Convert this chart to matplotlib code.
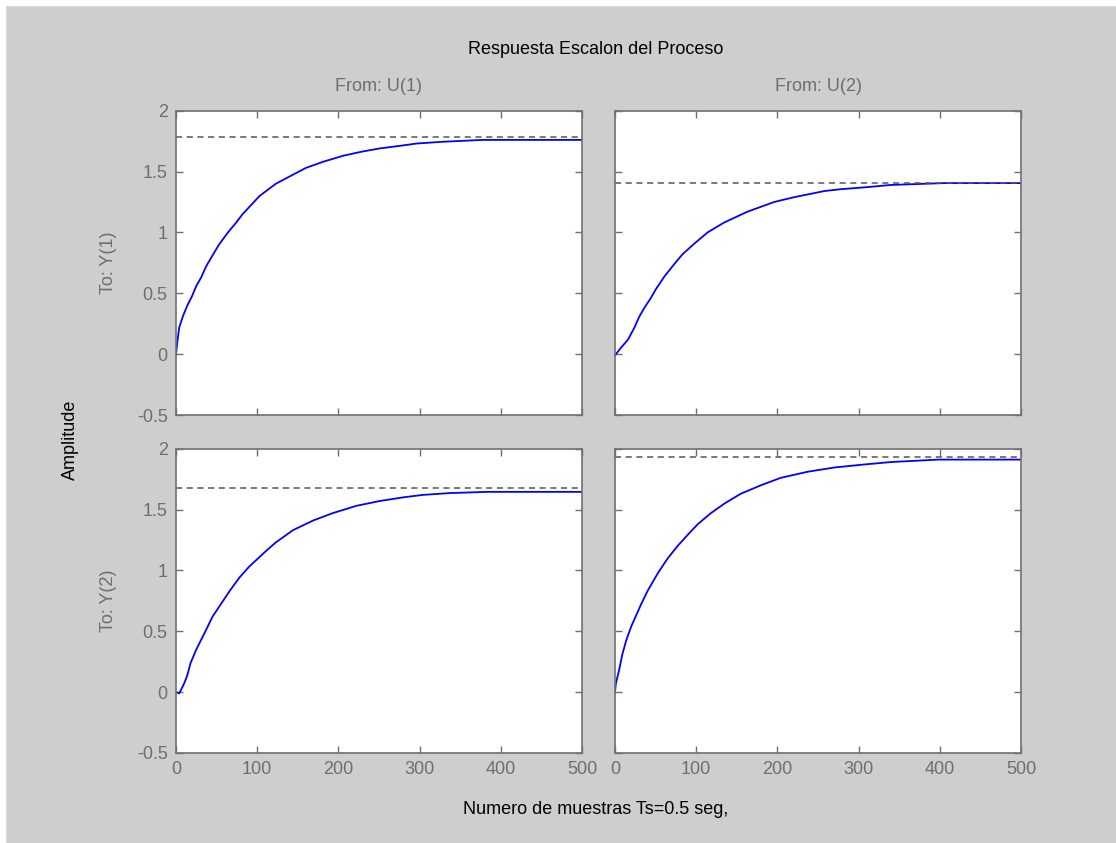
import matplotlib.pyplot as plt
from matplotlib.patches import Rectangle

plt.rcParams['font.family'] = ['Liberation Sans', 'DejaVu Sans']

# muestras (x = numero de muestra, y = amplitud)
x11 = [0, 1, 2, 4, 9, 14, 20, 25, 31, 37, 44, 53, 64, 74, 82, 103, 123, 140, 160, 181, 206, 230, 251, 280, 296, 329, 378, 500]
y11 = [0, 0.06, 0.12, 0.22, 0.32, 0.40, 0.48, 0.56, 0.63, 0.72, 0.80, 0.90, 1.00, 1.08, 1.15, 1.30, 1.40, 1.46, 1.53, 1.58, 1.63, 1.665, 1.69, 1.715, 1.73, 1.745, 1.76, 1.76]
x12 = [0, 7, 16, 24, 30, 37, 44, 50, 61, 73, 83, 98, 114, 134, 163, 196, 221, 258, 278, 307, 340, 405, 500]
y12 = [-0.01, 0.05, 0.12, 0.22, 0.31, 0.39, 0.46, 0.53, 0.64, 0.74, 0.82, 0.91, 1.00, 1.08, 1.17, 1.25, 1.29, 1.34, 1.355, 1.37, 1.39, 1.405, 1.405]
x21 = [0, 4, 10, 14, 18, 25, 31, 37, 45, 58, 66, 78, 90, 111, 123, 144, 169, 193, 222, 251, 280, 304, 337, 384, 500]
y21 = [0, -0.01, 0.07, 0.14, 0.24, 0.35, 0.43, 0.51, 0.62, 0.75, 0.83, 0.94, 1.03, 1.16, 1.23, 1.33, 1.41, 1.47, 1.53, 1.57, 1.60, 1.62, 1.635, 1.645, 1.645]
x22 = [0, 1, 5, 9, 14, 20, 26, 32, 40, 53, 65, 77, 92, 102, 118, 135, 155, 180, 204, 237, 270, 307, 340, 398, 500]
y22 = [0, 0.07, 0.18, 0.31, 0.43, 0.54, 0.63, 0.72, 0.83, 0.98, 1.10, 1.20, 1.31, 1.38, 1.47, 1.55, 1.63, 1.70, 1.76, 1.81, 1.845, 1.87, 1.89, 1.91, 1.91]
finales = [1.78, 1.405, 1.68, 1.93]

series = [(x11, y11), (x12, y12), (x21, y21), (x22, y22)]
entradas = ['From: U(1)', 'From: U(2)']
salidas = ['To: Y(1)', 'To: Y(2)']

bg = '#cecece'
gris = '#6e6e6e'

fig = plt.figure(figsize=(11.16, 8.43), dpi=100, facecolor=bg)
# borde blanco de la captura
fig.patches.append(Rectangle((0, 0.994), 1, 0.006, transform=fig.transFigure, color='white', zorder=-1))
fig.patches.append(Rectangle((0, 0), 0.0045, 1, transform=fig.transFigure, color='white', zorder=-1))

lefts = [0.1577, 0.5511]
bottoms = [0.5077, 0.1068]
w, h = 0.3638, 0.3610

for i in range(2):
    for j in range(2):
        ax = fig.add_axes([lefts[j], bottoms[i], w, h])
        xs, ys = series[i * 2 + j]
        ax.plot(xs, ys, color='#0000ff', lw=1.3)
        ax.axhline(finales[i * 2 + j], color='#555555', ls=(0, (4, 3)), lw=1.1)
        ax.set_xlim(0, 500)
        ax.set_ylim(-0.5, 2)
        ax.set_xticks([0, 100, 200, 300, 400, 500])
        ax.set_yticks([-0.5, 0, 0.5, 1, 1.5, 2])
        ax.set_yticklabels(['-0.5', '0', '0.5', '1', '1.5', '2'])
        ax.tick_params(direction='in', top=True, right=True, length=5, width=1,
                       color='#707070', labelcolor=gris, labelsize=13, pad=6)
        for s in ax.spines.values():
            s.set_color('#707070')
            s.set_linewidth(1.2)
        if i == 0:
            ax.tick_params(labelbottom=False)
            ax.set_title(entradas[j], color=gris, fontsize=13, pad=14)
        if j == 1:
            ax.tick_params(labelleft=False)
        else:
            ax.set_ylabel(salidas[i], color=gris, fontsize=13, labelpad=14)

fig.text(0.534, 0.941, 'Respuesta Escalon del Proceso', ha='center', va='center', fontsize=13)
fig.text(0.534, 0.040, 'Numero de muestras Ts=0.5 seg,', ha='center', va='center', fontsize=13)
fig.text(0.063, 0.478, 'Amplitude', ha='center', va='center', rotation=90, fontsize=13)

fig.savefig('out.png', dpi=100, facecolor=bg)
